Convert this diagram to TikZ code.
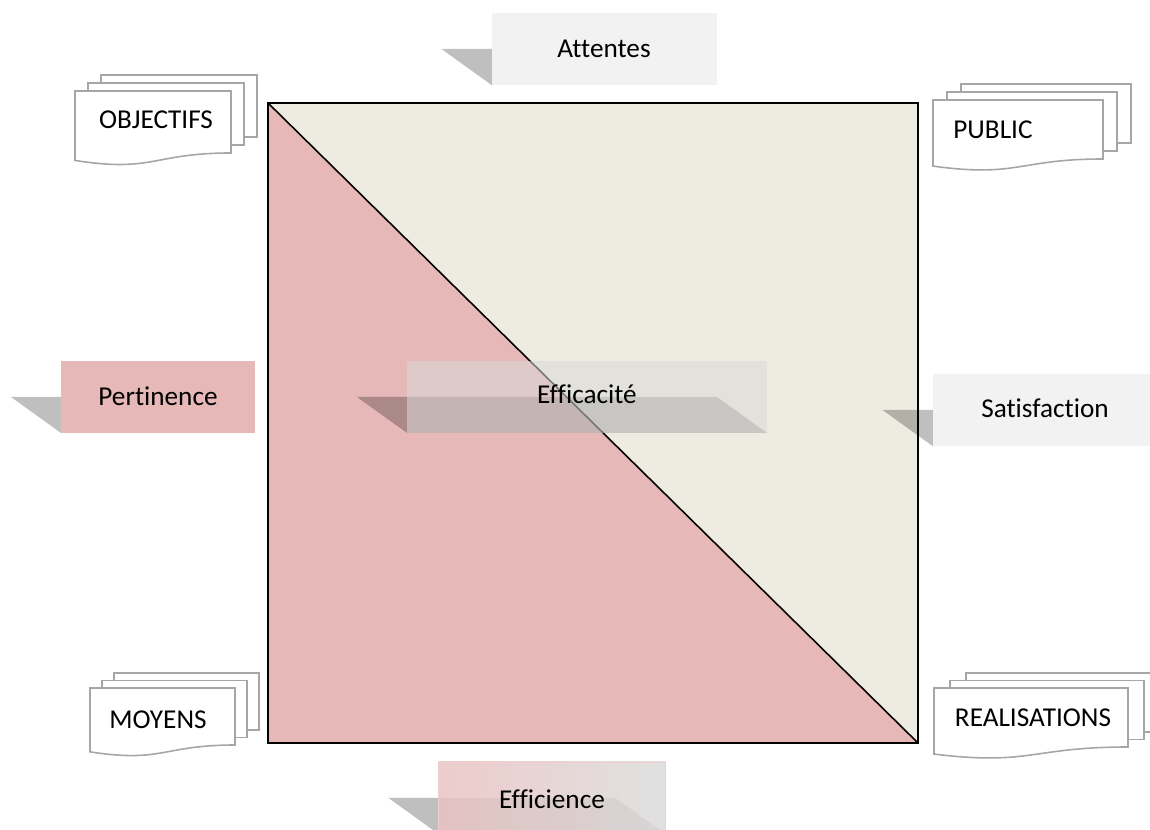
\documentclass[tikz,border=0pt]{standalone}
\usepackage{fontspec}
\setmainfont{Carlito}[Ligatures=NoCommon]
\usetikzlibrary{positioning}

\definecolor{pinkfill}{HTML}{E6B8B7}
\definecolor{tanfill}{HTML}{EEECE1}
\definecolor{boxgray}{HTML}{F2F2F2}
\definecolor{pagegray}{HTML}{A6A6A6}

\tikzset{
    lbl/.style={font=\fontsize{15.5}{18}\selectfont, inner sep=0pt},
    boxshadow/.style={fill=black, fill opacity=0.25},
    page/.style={draw=pagegray, line width=0.9pt, fill=white},
    graybox/.style={fill=boxgray},
    pinkbox/.style={fill=pinkfill},
    glassbox/.style={fill=black!15, fill opacity=0.55},
    gradbox/.style={left color=pinkfill!85!white, right color=black!14,
        fill opacity=0.85, draw=pinkfill!70!white, line width=0.5pt},
}

\begin{document}
\begin{tikzpicture}[x=0.02cm, y=-0.02cm]
    \useasboundingbox (0,0) rectangle (1150,830);
    \clip (0,0) rectangle (1150,830);

    % Square cut along its diagonal
    \fill[pinkfill] (268,103) -- (918,743) -- (268,743) -- cycle;
    \fill[tanfill] (268,103) -- (918,103) -- (918,743) -- cycle;
    \draw[line width=0.9pt] (268,103) -- (918,743);
    \draw[line width=1.3pt] (268,103) rectangle (918,743);

    % Stacked documents at the corners
    \foreach \x/\y/\w/\h/\dx/\dy/\nm/\tx/\ty/\txt in {
        75/91/156/62/13/8/objectifs/156/120/OBJECTIFS,
        933/100/170/59/14/8/public/993/130/PUBLIC,
        90/688/145/57/12/7.5/moyens/158/720/MOYENS,
        934/688/194/59/16/7.5/realisations/1033/718/REALISATIONS} {
        \draw[page] (\x+2*\dx,\y-2*\dy) rectangle +(\w,\h);
        \draw[page] (\x+\dx,\y-\dy) rectangle +(\w,\h);
        \draw[page] (\x,\y) -- (\x+\w,\y) -- (\x+\w,\y+\h)
            .. controls (\x+\w/2,\y+\h) and (\x+\w/2,\y+1.32*\h) .. (\x,\y+1.12*\h) -- cycle;
        \node[lbl] (\nm) at (\tx,\ty) {\txt};
    }

    % Callout boxes with their slanted shadows
    \foreach \cx/\cy/\w/\sty/\nm/\txt/\tx/\ty in {
        604/49/225/graybox/attentes/Attentes/604/49,
        158/397/194/pinkbox/pertinence/Pertinence/158/396,
        1045/410/225/graybox/satisfaction/Satisfaction/1045/408,
        587/397/360/glassbox/efficacite/Efficacité/587/394,
        552/798/227/gradbox/efficience/Efficience/552/799} {
        \fill[boxshadow] (\cx-\w/2-50,\cy) -- (\cx+\w/2-50,\cy)
            -- (\cx+\w/2,\cy+36) -- (\cx-\w/2,\cy+36) -- cycle;
        \path[\sty] (\cx-\w/2,\cy-36) rectangle (\cx+\w/2,\cy+36);
        \node[lbl] (\nm) at (\tx,\ty) {\txt};
    }

\end{tikzpicture}
\end{document}
